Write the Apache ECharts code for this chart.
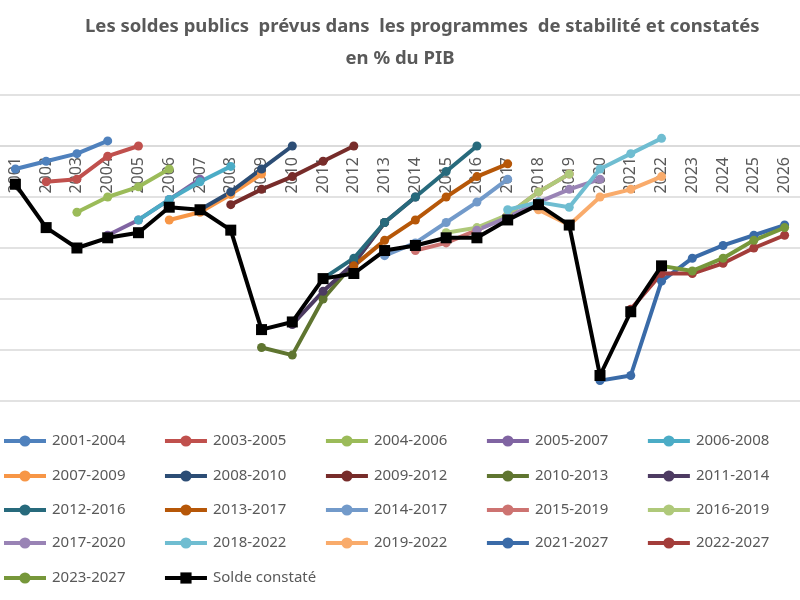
<!DOCTYPE html>
<html>
<head>
<meta charset="utf-8">
<script src="https://cdn.jsdelivr.net/npm/echarts@6/dist/echarts.min.js"></script>
<style>html,body{margin:0;padding:0;background:#fff}#c{width:800px;height:600px}</style>
</head>
<body>
<div id="c"></div>
<script>
// Categories
const years = [2001,2002,2003,2004,2005,2006,2007,2008,2009,2010,2011,2012,2013,2014,2015,2016,2017,2018,2019,2020,2021,2022,2023,2024,2025,2026];

// Series: name, first year, values
const seriesNames = ['2001-2004','2003-2005','2004-2006','2005-2007','2006-2008','2007-2009','2008-2010','2009-2012','2010-2013','2011-2014','2012-2016','2013-2017','2014-2017','2015-2019','2016-2019','2017-2020','2018-2022','2019-2022','2021-2027','2022-2027','2023-2027','Solde constaté'];
const startYears = [2001,2002,2003,2004,2005,2006,2007,2008,2009,2010,2011,2012,2013,2014,2015,2016,2017,2018,2020,2021,2022,2001];

const p2001_2004 = [-0.9, -0.6, -0.3, 0.2];
const p2003_2005 = [-1.4, -1.3, -0.4, 0.0];
const p2004_2006 = [-2.6, -2.0, -1.6, -0.9];
const p2005_2007 = [-3.5, -2.9, -2.1, -1.3];
const p2006_2008 = [-2.9, -2.1, -1.4, -0.8];
const p2007_2009 = [-2.9, -2.6, -1.9, -1.1];
const p2008_2010 = [-2.5, -1.8, -0.9, 0.0];
const p2009_2012 = [-2.3, -1.7, -1.2, -0.6, 0.0];
const p2010_2013 = [-7.9, -8.2, -6.0, -4.6, -3.0];
const p2011_2014 = [-7.0, -5.7, -4.6, -3.0, -2.0];
const p2012_2016 = [-5.2, -4.4, -3.0, -2.0, -1.0, 0.0];
const p2013_2017 = [-4.7, -3.7, -2.9, -2.0, -1.2, -0.7];
const p2014_2017 = [-4.3, -3.8, -3.0, -2.2, -1.3];
const p2015_2019 = [-4.1, -3.8, -3.3, -2.7, -1.8, -1.1];
const p2016_2019 = [-3.4, -3.2, -2.7, -1.8, -1.1];
const p2017_2020 = [-3.3, -2.8, -2.2, -1.7, -1.3];
const p2018_2022 = [-2.5, -2.2, -2.4, -0.9, -0.3, 0.3];
const p2019_2022 = [-2.5, -3.1, -2.0, -1.7, -1.2];
const p2021_2027 = [-9.2, -9.0, -5.3, -4.4, -3.9, -3.5, -3.1];
const p2022_2027 = [-6.4, -5.0, -5.0, -4.6, -4.0, -3.5];
const p2023_2027 = [-4.7, -4.9, -4.4, -3.7, -3.2];
const soldeConstate = [-1.5, -3.2, -4.0, -3.6, -3.4, -2.4, -2.5, -3.3, -7.2, -6.9, -5.2, -5.0, -4.1, -3.9, -3.6, -3.6, -2.9, -2.3, -3.1, -9.0, -6.5, -4.7];

const seriesValues = [p2001_2004,p2003_2005,p2004_2006,p2005_2007,p2006_2008,p2007_2009,p2008_2010,p2009_2012,p2010_2013,p2011_2014,p2012_2016,p2013_2017,p2014_2017,p2015_2019,p2016_2019,p2017_2020,p2018_2022,p2019_2022,p2021_2027,p2022_2027,p2023_2027,soldeConstate];

const colors = ['#4F81BD','#C0504D','#9BBB59','#8064A2','#4BACC6','#F79646',
                '#2C4D75','#772C2A','#5F7530','#4D3B62','#276A7C','#B65708',
                '#729ACA','#CD7371','#AFC97A','#9983B5','#6FBDD1','#F9AB6B',
                '#3A6BA8','#A33D3A','#76973A','#000000'];

function toData(start, vals){
  return years.map(y => {
    const i = y - start;
    return (i >= 0 && i < vals.length) ? vals[i] : null;
  });
}

const series = seriesNames.map((n, k) => {
  const isSolde = k === seriesNames.length - 1;
  return {
    name: n,
    type: 'line',
    data: toData(startYears[k], seriesValues[k]),
    symbol: isSolde ? 'rect' : 'circle',
    symbolSize: isSolde ? 11 : 9,
    showAllSymbol: true,
    lineStyle: { width: 4, color: colors[k] },
    itemStyle: { color: colors[k] },
    z: isSolde ? 5 : 2,
    animation: false
  };
});

const rowCenters = [441, 476, 510, 543, 578];
const legends = rowCenters.map((yc, r) => ({
  orient: 'horizontal',
  left: 2,
  top: yc - 8,
  padding: 0,
  itemWidth: 42,
  itemHeight: 14,
  itemGap: 37.5,
  lineStyle: { width: 4 },
  textStyle: { fontFamily: 'Noto Sans', fontSize: 15, color: '#595959', lineHeight: 16, padding: [0,0,0,1] },
  data: seriesNames.slice(r * 5, r * 5 + 5)
}));

const chart = echarts.init(document.getElementById('c'));
chart.setOption({
  backgroundColor: '#fff',
  color: colors,
  title: [{
    text: 'Les soldes publics  prévus dans  les programmes  de stabilité et constatés',
    left: 80,
    top: 6,
    textStyle: { fontFamily: 'Noto Sans', fontSize: 18.5, fontWeight: 'bold', color: '#595959', lineHeight: 32 }
  }, {
    text: 'en % du PIB',
    left: 'center',
    top: 38,
    textStyle: { fontFamily: 'Noto Sans', fontSize: 18.5, fontWeight: 'bold', color: '#595959', lineHeight: 32 }
  }],
  legend: legends,
  grid: { left: -6, right: -11, top: 95, bottom: 199, containLabel: false },
  xAxis: {
    type: 'category',
    data: years.map(String),
    boundaryGap: true,
    position: 'bottom',
    offset: -255,
    axisLine: { onZero: false, lineStyle: { color: '#d9d9d9', width: 1.5 } },
    axisTick: { show: false },
    axisLabel: { rotate: 90, margin: 11, fontFamily: 'Noto Sans', fontSize: 16, color: '#595959', interval: 0 }
  },
  yAxis: {
    type: 'value',
    min: -10, max: 2, interval: 2,
    axisLabel: { show: false },
    axisLine: { show: false },
    axisTick: { show: false },
    splitLine: { lineStyle: { color: '#d9d9d9', width: 1.5 } }
  },
  series: series
});
</script>
</body>
</html>
